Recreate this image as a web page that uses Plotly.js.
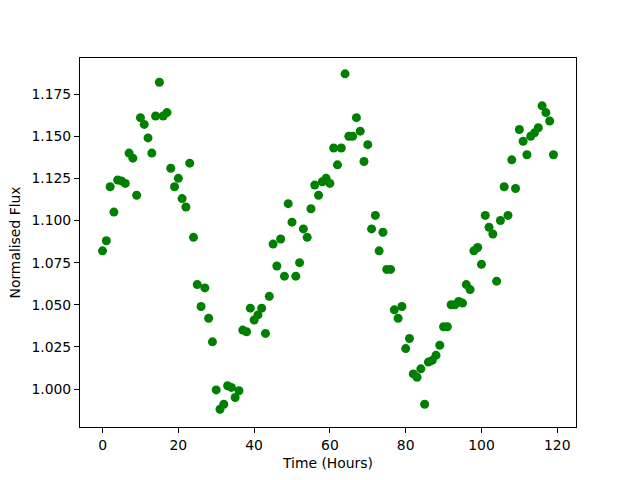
<!DOCTYPE html>
<html>
<head>
<meta charset="utf-8">
<script src="https://cdn.plot.ly/plotly-3.0.1.min.js"></script>
<style>body{margin:0;padding:0;background:#fff;}#chart{width:640px;height:480px;}</style>
</head>
<body>
<div id="chart"></div>
<script>
const hours = Array.from({length: 120}, (_, i) => i);
const flux = [
1.082,1.088,1.120,1.105,1.124,1.1235,1.122,1.140,1.137,1.115,
1.161,1.157,1.149,1.140,1.162,1.182,1.162,1.164,1.131,1.120,
1.125,1.113,1.108,1.134,1.090,1.062,1.049,1.060,1.042,1.028,
0.9995,0.988,0.991,1.002,1.001,0.995,0.999,1.035,1.034,1.048,
1.041,1.044,1.048,1.033,1.055,1.086,1.073,1.089,1.067,1.110,
1.099,1.067,1.075,1.095,1.090,1.107,1.121,1.115,1.123,1.125,
1.122,1.143,1.133,1.143,1.187,1.150,1.150,1.161,1.153,1.135,
1.145,1.095,1.103,1.082,1.093,1.071,1.071,1.047,1.042,1.049,
1.024,1.030,1.009,1.007,1.012,0.991,1.016,1.017,1.020,1.026,
1.037,1.037,1.050,1.050,1.052,1.051,1.062,1.059,1.082,1.084,
1.074,1.103,1.096,1.092,1.064,1.100,1.120,1.103,1.136,1.119,
1.154,1.147,1.139,1.150,1.152,1.155,1.168,1.164,1.159,1.139
];
const xTicks = [0,20,40,60,80,100,120];
const yTicks = [1.000,1.025,1.050,1.075,1.100,1.125,1.150,1.175];

const FS = 13.9;
const axisCommon = {
  showgrid: false, zeroline: false, showline: true, mirror: true,
  linecolor: '#000', linewidth: 1, ticks: 'outside', ticklen: 5, tickwidth: 1,
  tickcolor: '#000', tickfont: {family: 'DejaVu Sans', size: FS, color: '#000'}
};
const data = [{
  x: hours, y: flux, type: 'scatter', mode: 'markers',
  marker: {color: '#008000', size: 9}
}];
const layout = {
  width: 640, height: 480,
  margin: {l: 80, r: 64, t: 58, b: 53},
  paper_bgcolor: '#fff', plot_bgcolor: '#fff',
  showlegend: false,
  font: {family: 'DejaVu Sans', size: FS, color: '#000'},
  xaxis: Object.assign({}, axisCommon, {
    range: [-5.95, 124.95], tickvals: xTicks, ticktext: xTicks.map(String),
    title: {text: 'Time (Hours)', font: {family: 'DejaVu Sans', size: FS}, standoff: 6}
  }),
  yaxis: Object.assign({}, axisCommon, {
    range: [0.9775, 1.1964], tickvals: yTicks, ticktext: yTicks.map(v => v.toFixed(3)),
    title: {text: 'Normalised Flux', font: {family: 'DejaVu Sans', size: FS}, standoff: 7}
  })
};
Plotly.newPlot('chart', data, layout, {displayModeBar: false, staticPlot: true});
</script>
</body>
</html>
